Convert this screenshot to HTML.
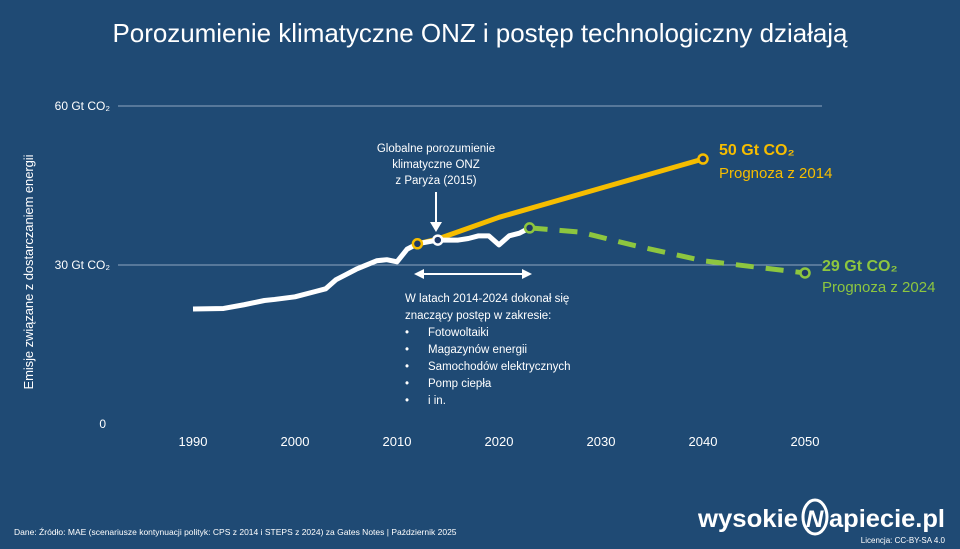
<!DOCTYPE html>
<html><head><meta charset="utf-8"><style>
body{margin:0;width:960px;height:549px;background:#1f4a74;overflow:hidden;font-family:"Liberation Sans",sans-serif}
svg{display:block}
</style></head><body>
<svg id="c" width="960" height="549">
<text x="480" y="42" text-anchor="middle" fill="#fff" font-size="26" textLength="735">Porozumienie klimatyczne ONZ i postęp technologiczny działają</text>
<text transform="translate(33,272) rotate(-90)" text-anchor="middle" fill="#fff" font-size="13" textLength="235">Emisje związane z dostarczaniem energii</text>
<g id="grid"></g><g id="ticks"></g><g id="series"></g>
<g>
<text x="436" y="152" text-anchor="middle" fill="#fff" font-size="11.5">Globalne porozumienie</text>
<text x="436" y="168" text-anchor="middle" fill="#fff" font-size="11.5">klimatyczne ONZ</text>
<text x="436" y="184" text-anchor="middle" fill="#fff" font-size="11.5">z Paryża (2015)</text>
<line x1="436" y1="192" x2="436" y2="226" stroke="#fff" stroke-width="2"/>
<polygon points="430,222 442,222 436,232" fill="#fff"/>
</g>
<g>
<line x1="420" y1="274" x2="526" y2="274" stroke="#fff" stroke-width="2"/>
<polygon points="414,274 424,269 424,279" fill="#fff"/><polygon points="532,274 522,269 522,279" fill="#fff"/>
</g>
<g fill="#fff" font-size="11.5">
<text x="405" y="302">W latach 2014-2024 dokonał się</text>
<text x="405" y="319">znaczący postęp w zakresie:</text>
<text x="405" y="336">•</text><text x="428" y="336">Fotowoltaiki</text>
<text x="405" y="353">•</text><text x="428" y="353">Magazynów energii</text>
<text x="405" y="370">•</text><text x="428" y="370">Samochodów elektrycznych</text>
<text x="405" y="387">•</text><text x="428" y="387">Pomp ciepła</text>
<text x="405" y="404">•</text><text x="428" y="404">i in.</text>
</g>
<g>
<text x="719" y="155" fill="#f6bd00" font-size="16" font-weight="bold">50 Gt CO₂</text>
<text x="719" y="178" fill="#f6bd00" font-size="15">Prognoza z 2014</text></g>
<g>
<text x="822" y="271" fill="#8dc63f" font-size="16" font-weight="bold">29 Gt CO₂</text>
<text x="822" y="292" fill="#8dc63f" font-size="15">Prognoza z 2024</text></g>
<text x="14" y="535" fill="#fff" font-size="8.5">Dane: Źródło: MAE (scenariusze kontynuacji polityk: CPS z 2014 i STEPS z 2024) za Gates Notes  |  Październik 2025</text>
<g>
<text x="698" y="527" fill="#fff" font-size="25" font-weight="bold" textLength="100" lengthAdjust="spacingAndGlyphs">wysokie</text>
<ellipse cx="815" cy="517" rx="12" ry="17" fill="none" stroke="#fff" stroke-width="3"/>
<text x="806" y="527" fill="#fff" font-size="24" font-weight="bold" font-style="italic">N</text>
<text x="829" y="527" fill="#fff" font-size="25" font-weight="bold" textLength="116" lengthAdjust="spacingAndGlyphs">apiecie.pl</text>
<text x="945" y="543" text-anchor="end" fill="#fff" font-size="8">Licencja: CC-BY-SA 4.0</text></g>
</svg>
<script>
const yTicks=[0,30,60];
const yTickLabels=["0","30 Gt CO₂","60 Gt CO₂"];
const xTicks=[1990,2000,2010,2020,2030,2040,2050];
const histYears=[1990,1993,1995,1997,1998,2000,2002,2003,2004,2005,2006,2008,2009,2010,2011,2012,2014,2016,2017,2018,2019,2020,2021,2022,2023];
const histValues=[21.7,21.8,22.5,23.3,23.5,24.0,25.0,25.5,27.2,28.2,29.2,30.8,31.0,30.6,33.0,34.0,34.7,34.7,35.0,35.5,35.5,33.8,35.5,36.0,37.0];
const cpsYears=[2012,2014,2020,2030,2040];
const cpsValues=[34.0,34.9,39.0,44.5,50.0];
const stepsYears=[2023,2028,2033,2040,2050];
const stepsValues=[37.0,36.2,33.8,30.8,28.5];
const X=y=>193+(y-1990)*10.2, Y=v=>424-v*5.3;
const NS="http://www.w3.org/2000/svg";
function mk(t,a,p){const e=document.createElementNS(NS,t);for(const k in a)e.setAttribute(k,a[k]);p.appendChild(e);return e;}
const grid=document.getElementById('grid'),ticks=document.getElementById('ticks'),ser=document.getElementById('series');
yTicks.forEach((v,i)=>{
 if(v>0){const l=mk('line',{x1:118,x2:822,y1:Y(v),y2:Y(v),stroke:'#8fa6bf','stroke-width':1},grid);
 
 }
 const t=mk('text',{x:v>0?110:106,y:Y(v)+4,'text-anchor':'end',fill:'#fff','font-size':12},ticks);t.textContent=yTickLabels[i];
 
 
});
xTicks.forEach(y=>{const t=mk('text',{x:X(y),y:446,'text-anchor':'middle',fill:'#fff','font-size':13},ticks);t.textContent=y;
 
 });
function path(ys,vs){return ys.map((y,i)=>(i?'L':'M')+X(y)+','+Y(vs[i])).join('');}
const s=mk('path',{d:path(stepsYears,stepsValues),fill:'none',stroke:'#8dc63f','stroke-width':5,'stroke-dasharray':'18,12'},ser);


const c=mk('path',{d:path(cpsYears,cpsValues),fill:'none',stroke:'#f6bd00','stroke-width':5,'stroke-linejoin':'round'},ser);


const h=mk('path',{d:path(histYears,histValues),fill:'none',stroke:'#fff','stroke-width':5,'stroke-linejoin':'round'},ser);


function dot(y,v,col,n){const d=mk('circle',{cx:X(y),cy:Y(v),r:4.5,fill:'#1f3a68',stroke:col,'stroke-width':2.5},ser);
 
 }
dot(cpsYears[0],cpsValues[0],'#f6bd00','cps-start-point');
dot(2014,histValues[histYears.indexOf(2014)],'#fff','paris-point');
dot(cpsYears[cpsYears.length-1],cpsValues[cpsValues.length-1],'#f6bd00','cps-end-point');
dot(stepsYears[0],stepsValues[0],'#8dc63f','steps-start-point');
dot(stepsYears[stepsYears.length-1],stepsValues[stepsValues.length-1],'#8dc63f','steps-end-point');
</script>
</body></html>
